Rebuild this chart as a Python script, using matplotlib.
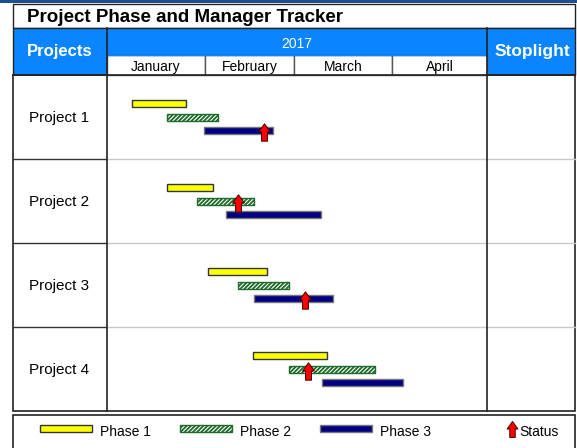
import matplotlib
matplotlib.use("Agg")
import matplotlib.pyplot as plt
from matplotlib.patches import Rectangle
from matplotlib.path import Path
import numpy as np

plt.rcParams['font.family'] = ['Liberation Sans', 'DejaVu Sans']
plt.rcParams['hatch.linewidth'] = 1.3

# ---------------- data ----------------
title = "Project Phase and Manager Tracker"
year_label = "2017"
months = ["January", "February", "March", "April"]
month_days = [31, 28, 31, 30]
projects = ["Project 1", "Project 2", "Project 3", "Project 4"]
phases = ["Phase 1", "Phase 2", "Phase 3"]
# start / end as day offsets from Jan 1
phase1_start = [8, 19, 32, 46]
phase1_end = [25, 33.5, 50.5, 69.5]
phase2_start = [19, 28.5, 41.5, 57.5]
phase2_end = [35, 46.5, 57.5, 84.5]
phase3_start = [30.5, 37.5, 46.5, 68]
phase3_end = [52.5, 67.5, 71.5, 93.5]
status_day = [49.5, 41.5, 62.5, 63.5]
status_phase = [2, 1, 2, 1]  # index of phase row the status arrow sits on

# ---------------- figure ----------------
W, H = 577, 448
fig = plt.figure(figsize=(W / 100, H / 100), dpi=100)
frame = fig.add_axes([0, 0, 1, 1])
frame.set_xlim(0, W)
frame.set_ylim(H, 0)
frame.axis('off')

BLUE = "#0A84FF"
DARK = "#1B4F8F"
L, R = 13, 575
XP, XS = 107, 487  # column boundaries
YT0, YT1 = 4, 28   # title box
YH1 = 55           # year row bottom
YH2 = 75           # month row bottom
ROW_H = 84
YB = YH2 + ROW_H * len(projects)

# top band
frame.add_patch(Rectangle((0, 0), W, 3.5, color=DARK, lw=0, zorder=1))
# title box
frame.add_patch(Rectangle((L, YT0), R - L, YT1 - YT0, facecolor="white", edgecolor="#222222", lw=1, zorder=1))
frame.text(L + 14, (YT0 + YT1) / 2 + 1, title, fontsize=13.5, fontweight='bold', va='center', ha='left', color='black')
# header blue
frame.add_patch(Rectangle((L, YT1), R - L, YH2 - YT1, facecolor=BLUE, edgecolor="#222222", lw=1, zorder=1))
frame.text((L + XP) / 2, (YT1 + YH2) / 2, "Projects", fontsize=12, fontweight='bold', color='white', ha='center', va='center')
frame.text((XS + R) / 2 + 1, (YT1 + YH2) / 2, "Stoplight", fontsize=12.5, fontweight='bold', color='white', ha='center', va='center')
frame.text((XP + XS) / 2, (YT1 + YH1) / 2 + 2, year_label, fontsize=10, color='white', ha='center', va='center')

# month cells
total_days = sum(month_days)
pxday = (XS - XP) / total_days
x = XP
for m, d in zip(months, month_days):
    w = d * pxday
    frame.add_patch(Rectangle((x, YH1), w, YH2 - YH1, facecolor='white', edgecolor='#555555', lw=1, zorder=2))
    frame.text(x + w / 2, (YH1 + YH2) / 2 + 2, m, fontsize=10, color='black', ha='center', va='center', zorder=3)
    x += w
frame.plot([XP, XS], [YH1, YH1], color=BLUE, lw=1, zorder=3)

# body
frame.add_patch(Rectangle((L, YH2), R - L, YB - YH2, facecolor='white', edgecolor='#222222', lw=1.2, zorder=1))
for i in range(1, len(projects)):
    yy = YH2 + i * ROW_H
    frame.plot([L, XP], [yy, yy], color='#333333', lw=1, zorder=2)
    frame.plot([XP, R], [yy, yy], color='#C8C8C8', lw=1, zorder=2)
for xx in (XP, XS):
    frame.plot([xx, xx], [YT1, YB], color='#222222', lw=1.2, zorder=4)
frame.plot([L, R], [YH2, YH2], color='#222222', lw=1.2, zorder=4)
for i, p in enumerate(projects):
    frame.text((L + XP) / 2 - 0.5, YH2 + i * ROW_H + ROW_H / 2 + 1, p, fontsize=11, ha='center', va='center')

# arrow marker path
arrow_verts = [(-0.17, -0.5), (0.17, -0.5), (0.17, 0.03), (0.34, 0.03), (0.0, 0.5),
               (-0.34, 0.03), (-0.17, 0.03), (-0.17, -0.5)]
arrow_codes = [Path.MOVETO] + [Path.LINETO] * 6 + [Path.CLOSEPOLY]
arrow = Path(arrow_verts, arrow_codes)

styles = [dict(facecolor='#FFFF00', edgecolor='#333333', hatch=None),
          dict(facecolor='white', edgecolor='#1E6B2A', hatch='////////'),
          dict(facecolor='#000080', edgecolor='#777777', hatch=None)]

# gantt axes
gx = fig.add_axes([XP / W, 1 - YB / H, (XS - XP) / W, (YB - YH2) / H])
gx.set_xlim(0, total_days)
gx.set_ylim(len(projects), 0)
gx.axis('off')
offsets = [0.339, 0.506, 0.661]
bh = 7 / ROW_H
starts = [phase1_start, phase2_start, phase3_start]
ends = [phase1_end, phase2_end, phase3_end]
for k in range(3):
    s = np.array(starts[k]); e = np.array(ends[k])
    ys = np.arange(len(projects)) + offsets[k]
    gx.barh(ys, e - s, left=s, height=bh, lw=1, **styles[k])
sy = np.arange(len(projects)) + np.array([offsets[p] for p in status_phase]) + 0.02
gx.plot(status_day, sy, ls='none', marker=arrow, markersize=12.5, markerfacecolor='#FF0000',
        markeredgecolor='#400000', markeredgewidth=0.7, zorder=5)

# legend box
YL0 = 415
frame.add_patch(Rectangle((L, YL0), R - L, H - YL0 + 2, facecolor='white', edgecolor='#222222', lw=1.2, zorder=1))
leg_x = [40, 180, 320]
ly = 428.5
for k in range(3):
    st = styles[k]
    frame.add_patch(Rectangle((leg_x[k], ly - 3.5), 52, 7, facecolor=st['facecolor'], edgecolor=st['edgecolor'],
                              hatch=st['hatch'], lw=1, zorder=2))
    frame.text(leg_x[k] + 60, ly + 4, phases[k], fontsize=10, ha='left', va='center')
frame.plot([512], [ly + 1], ls='none', marker=arrow, markersize=11.5, markerfacecolor='#FF0000',
           markeredgecolor='#400000', markeredgewidth=0.7, zorder=5)
frame.text(519, ly + 4, "Status", fontsize=10, ha='left', va='center')

fig.savefig("out.png", dpi=100)
